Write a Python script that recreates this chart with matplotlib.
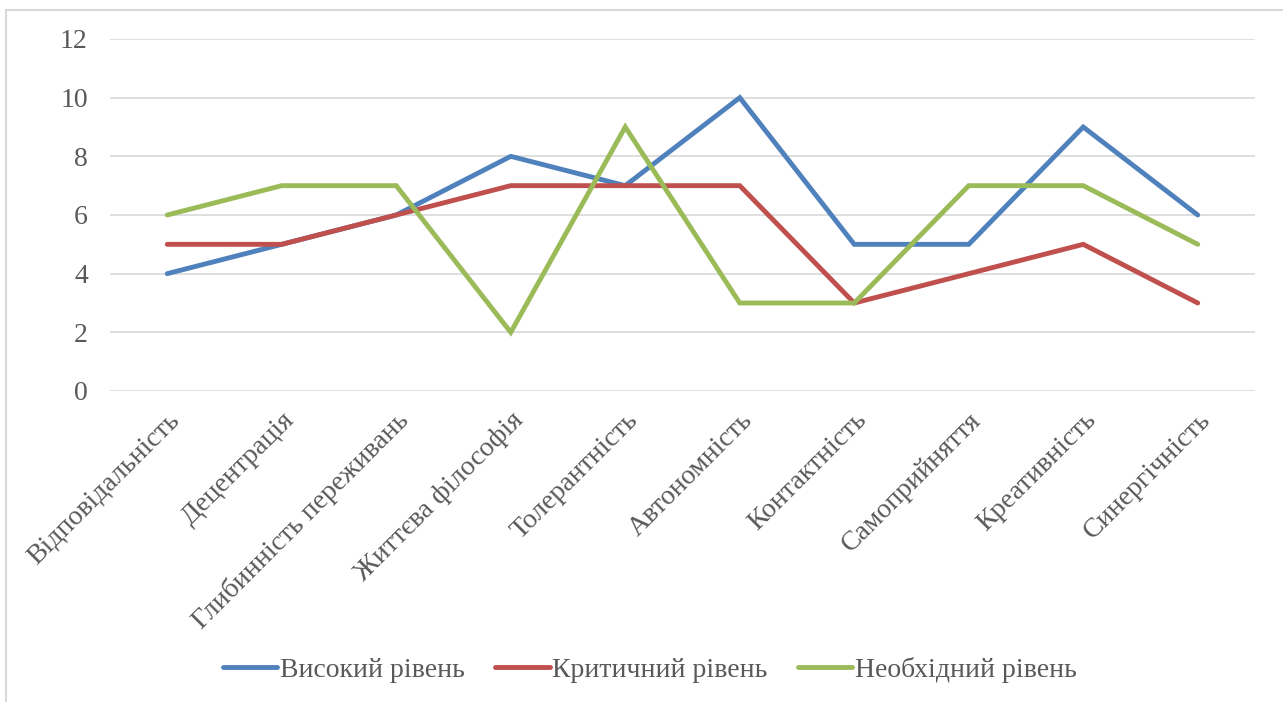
import matplotlib
matplotlib.use("Agg")
import matplotlib.pyplot as plt
from matplotlib.patches import Rectangle

categories = ["Відповідальність", "Децентрація", "Глибинність переживань",
              "Життєва філософія", "Толерантність", "Автономність",
              "Контактність", "Самоприйняття", "Креативність", "Синергічність"]
high = [4, 5, 6, 8, 7, 10, 5, 5, 9, 6]
critical = [5, 5, 6, 7, 7, 7, 3, 4, 5, 3]
needed = [6, 7, 7, 2, 9, 3, 3, 7, 7, 5]
series_names = ["Високий рівень", "Критичний рівень", "Необхідний рівень"]
y_ticks = [0, 2, 4, 6, 8, 10, 12]

plt.rcParams["font.family"] = ["Liberation Serif", "DejaVu Serif"]
text_color = "#595959"

W, H = 1283, 702
fig = plt.figure(figsize=(W / 100, H / 100), dpi=100)
ax = fig.add_axes([110 / W, 1 - 391 / H, (1255 - 110) / W, (391 - 39) / H])

# рамка діаграми (обрізана справа і знизу)
fig.patches.append(Rectangle((6 / W, -0.05), 1.2, 1 - 10 / H + 0.05,
                             transform=fig.transFigure, fill=False,
                             edgecolor="#D9D9D9", linewidth=1.5))

x = list(range(len(categories)))
colors = ["#4F81BD", "#C0504D", "#9BBB59"]
for vals, name, c in zip([high, critical, needed], series_names, colors):
    ax.plot(x, vals, color=c, linewidth=3.5, label=name,
            solid_capstyle="round", solid_joinstyle="miter")

ax.set_xlim(-0.5, len(categories) - 0.5)
ax.set_ylim(0, 12)
ax.set_yticks(y_ticks)
ax.set_xticks(x)
ax.set_xticklabels(categories, rotation=45, ha="right", rotation_mode="anchor",
                   fontsize=20, color=text_color)
ax.tick_params(axis="x", length=0, pad=12)
ax.tick_params(axis="y", length=0, pad=16, labelsize=20, labelcolor=text_color)
ax.grid(axis="y", color="#D9D9D9", linewidth=1.2)
ax.set_axisbelow(True)
for s in ax.spines.values():
    s.set_visible(False)

fig.legend(loc="center", bbox_to_anchor=(650 / W, 1 - 670 / H), ncol=3,
           frameon=False, fontsize=20, handlelength=1.95, handletextpad=0.1,
           columnspacing=1.1, labelcolor=text_color)

fig.savefig("out.png", dpi=100)
